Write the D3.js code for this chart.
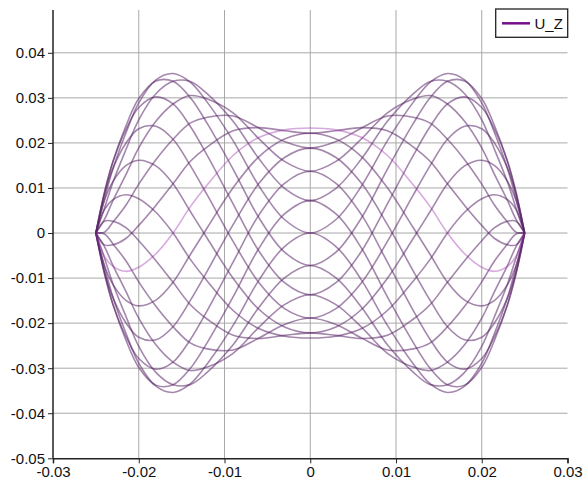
<!DOCTYPE html>
<html><head><meta charset="utf-8">
<script src="https://cdn.jsdelivr.net/npm/d3@7/dist/d3.min.js"></script>
<style>body{margin:0;background:#fff}svg{display:block}</style>
</head><body>
<script>
const xs = [-0.025,-0.024,-0.023,-0.0215,-0.02,-0.018,-0.016,-0.014,-0.012,-0.009,-0.006,-0.003,0,0.003,0.006,0.009,0.012,0.014,0.016,0.018,0.02,0.0215,0.023,0.024,0.025];
const u000 = [0,0.0075,0.0143,0.0222,0.0289,0.034,0.0354,0.0335,0.029,0.0205,0.0105,0.003,0,0.003,0.0105,0.0205,0.029,0.0335,0.0354,0.034,0.0289,0.0222,0.0143,0.0075,0];
const u018 = [0,0.00552,0.01131,0.01848,0.02514,0.03092,0.03367,0.03365,0.03089,0.02481,0.01654,0.00993,0.0072,0.00993,0.01654,0.02481,0.03089,0.03365,0.03367,0.03092,0.02514,0.01848,0.01131,0.00552,0];
const u036 = [0,0.00301,0.00722,0.01296,0.01891,0.02481,0.02864,0.03051,0.02975,0.02669,0.02095,0.01589,0.0137,0.01589,0.02095,0.02669,0.02975,0.03051,0.02864,0.02481,0.01891,0.01296,0.00722,0.00301,0];
const u054 = [0,0.0002,0.00242,0.00617,0.01084,0.01627,0.02081,0.02438,0.02571,0.02596,0.02332,0.02029,0.01885,0.02029,0.02332,0.02596,0.02571,0.02438,0.02081,0.01627,0.01084,0.00617,0.00242,0.0002,0];
const u072 = [0,-0.00263,-0.00262,-0.00122,0.0017,0.00613,0.01094,0.01587,0.01914,0.02269,0.0234,0.02271,0.02216,0.02271,0.0234,0.02269,0.01914,0.01587,0.01094,0.00613,0.0017,-0.00122,-0.00262,-0.00263,0];
const u090 = [0,-0.0052,-0.0074,-0.0085,-0.0076,-0.0046,0,0.0058,0.0107,0.0172,0.0212,0.0229,0.0233,0.0229,0.0212,0.0172,0.0107,0.0058,0,-0.0046,-0.0076,-0.0085,-0.0074,-0.0052,0];
const u108 = [0,-0.00727,-0.01146,-0.01494,-0.01616,-0.01489,-0.01094,-0.00483,0.00122,0.01003,0.01692,0.02085,0.02216,0.02085,0.01692,0.01003,0.00122,-0.00483,-0.01094,-0.01489,-0.01616,-0.01494,-0.01146,-0.00727,0];
const u126 = [0,-0.00862,-0.0144,-0.01993,-0.02314,-0.02371,-0.02081,-0.015,-0.00839,0.00186,0.01098,0.01677,0.01885,0.01677,0.01098,0.00186,-0.00839,-0.015,-0.02081,-0.02371,-0.02314,-0.01993,-0.0144,-0.00862,0];
const u144 = [0,-0.00913,-0.01592,-0.02296,-0.02785,-0.03021,-0.02864,-0.02369,-0.01717,-0.00647,0.00397,0.01103,0.0137,0.01103,0.00397,-0.00647,-0.01717,-0.02369,-0.02864,-0.03021,-0.02785,-0.02296,-0.01592,-0.00913,0];
const u162 = [0,-0.00874,-0.01589,-0.02374,-0.02984,-0.03376,-0.03367,-0.03007,-0.02427,-0.01419,-0.00344,0.00423,0.0072,0.00423,-0.00344,-0.01419,-0.02427,-0.03007,-0.03367,-0.03376,-0.02984,-0.02374,-0.01589,-0.00874,0];
const u180 = [0,-0.0075,-0.0143,-0.0222,-0.0289,-0.034,-0.0354,-0.0335,-0.029,-0.0205,-0.0105,-0.003,0,-0.003,-0.0105,-0.0205,-0.029,-0.0335,-0.0354,-0.034,-0.0289,-0.0222,-0.0143,-0.0075,0];
const u198 = [0,-0.00552,-0.01131,-0.01848,-0.02514,-0.03092,-0.03367,-0.03365,-0.03089,-0.02481,-0.01654,-0.00993,-0.0072,-0.00993,-0.01654,-0.02481,-0.03089,-0.03365,-0.03367,-0.03092,-0.02514,-0.01848,-0.01131,-0.00552,0];
const u216 = [0,-0.00301,-0.00722,-0.01296,-0.01891,-0.02481,-0.02864,-0.03051,-0.02975,-0.02669,-0.02095,-0.01589,-0.0137,-0.01589,-0.02095,-0.02669,-0.02975,-0.03051,-0.02864,-0.02481,-0.01891,-0.01296,-0.00722,-0.00301,0];
const u234 = [0,-0.0002,-0.00242,-0.00617,-0.01084,-0.01627,-0.02081,-0.02438,-0.02571,-0.02596,-0.02332,-0.02029,-0.01885,-0.02029,-0.02332,-0.02596,-0.02571,-0.02438,-0.02081,-0.01627,-0.01084,-0.00617,-0.00242,-0.0002,0];
const u252 = [0,0.00263,0.00262,0.00122,-0.0017,-0.00613,-0.01094,-0.01587,-0.01914,-0.02269,-0.0234,-0.02271,-0.02216,-0.02271,-0.0234,-0.02269,-0.01914,-0.01587,-0.01094,-0.00613,-0.0017,0.00122,0.00262,0.00263,0];
const u270 = [0,0.0052,0.0074,0.0085,0.0076,0.0046,0,-0.0058,-0.0107,-0.0172,-0.0212,-0.0229,-0.0233,-0.0229,-0.0212,-0.0172,-0.0107,-0.0058,0,0.0046,0.0076,0.0085,0.0074,0.0052,0];
const u288 = [0,0.00727,0.01146,0.01494,0.01616,0.01489,0.01094,0.00483,-0.00122,-0.01003,-0.01692,-0.02085,-0.02216,-0.02085,-0.01692,-0.01003,-0.00122,0.00483,0.01094,0.01489,0.01616,0.01494,0.01146,0.00727,0];
const u306 = [0,0.00862,0.0144,0.01993,0.02314,0.02371,0.02081,0.015,0.00839,-0.00186,-0.01098,-0.01677,-0.01885,-0.01677,-0.01098,-0.00186,0.00839,0.015,0.02081,0.02371,0.02314,0.01993,0.0144,0.00862,0];
const u324 = [0,0.00913,0.01592,0.02296,0.02785,0.03021,0.02864,0.02369,0.01717,0.00647,-0.00397,-0.01103,-0.0137,-0.01103,-0.00397,0.00647,0.01717,0.02369,0.02864,0.03021,0.02785,0.02296,0.01592,0.00913,0];
const u342 = [0,0.00874,0.01589,0.02374,0.02984,0.03376,0.03367,0.03007,0.02427,0.01419,0.00344,-0.00423,-0.0072,-0.00423,0.00344,0.01419,0.02427,0.03007,0.03367,0.03376,0.02984,0.02374,0.01589,0.00874,0];

const xTicks = [-0.03,-0.02,-0.01,0,0.01,0.02,0.03];
const xTickLabels = ["-0.03","-0.02","-0.01","0","0.01","0.02","0.03"];
const yTicks = [-0.05,-0.04,-0.03,-0.02,-0.01,0,0.01,0.02,0.03,0.04];
const yTickLabels = ["-0.05","-0.04","-0.03","-0.02","-0.01","0","0.01","0.02","0.03","0.04"];
const seriesName = "U_Z";

const curves = [u000,u018,u036,u054,u072,u108,u126,u144,u162,u180,u198,u216,u234,u252,u270,u288,u306,u324,u342];
const highlight = u090;

const W = 587, H = 487;
const svg = d3.select("body").append("svg").attr("width", W).attr("height", H);
const x = d3.scaleLinear().domain([-0.03, 0.03]).range([53, 567.5]);
const y = d3.scaleLinear().domain([-0.05, 0.0495]).range([458.3, 10]);

// grid
svg.append("g").selectAll("line").data(yTicks.filter(d => d > -0.05)).join("line")
  .attr("x1", x(-0.03)).attr("x2", x(0.03)).attr("y1", d => y(d)).attr("y2", d => y(d))
  .attr("stroke", "#a9a9a9").attr("stroke-width", 1);
svg.append("g").selectAll("line").data(xTicks.filter(d => d > -0.03 && d < 0.03)).join("line")
  .attr("x1", d => x(d)).attr("x2", d => x(d)).attr("y1", y(0.0495)).attr("y2", y(-0.05))
  .attr("stroke", "#a9a9a9").attr("stroke-width", 1);

// curves
const line = d3.line().x((d, i) => x(xs[i])).y(d => y(d)).curve(d3.curveCatmullRom.alpha(0.5));
const cg = svg.append("g").attr("fill", "none");
cg.selectAll("path.c").data(curves).join("path").attr("class", "c")
  .attr("d", line).attr("stroke", "#5a2468").attr("stroke-opacity", 0.55).attr("stroke-width", 1.6);
cg.append("path").datum(highlight).attr("d", line)
  .attr("stroke", "#9a2aaa").attr("stroke-opacity", 0.4).attr("stroke-width", 1.6);

// axes
const fontFam = "'Liberation Sans', Arial, sans-serif";
const xAxis = svg.append("g").attr("transform", `translate(0,${y(-0.05)})`)
  .call(d3.axisBottom(x).tickValues(xTicks).tickFormat((d, i) => xTickLabels[i]).tickSizeOuter(0).tickSize(5).tickPadding(3));
const yAxis = svg.append("g").attr("transform", `translate(${x(-0.03)},0)`)
  .call(d3.axisLeft(y).tickValues(yTicks).tickFormat((d, i) => yTickLabels[i]).tickSizeOuter(0).tickSize(5).tickPadding(3));
[xAxis, yAxis].forEach(g => {
  g.select(".domain").attr("stroke", "#222").attr("stroke-width", 1.5);
  g.selectAll(".tick line").attr("stroke", "#222").attr("stroke-width", 1);
  g.selectAll(".tick text").attr("fill", "#111").style("font-family", fontFam).style("font-size", "15px");
});
yAxis.select(".domain").attr("d", `M0,${y(0.0495)}V${y(-0.05)}`);

// legend
const lg = svg.append("g");
lg.append("rect").attr("x", 495.7).attr("y", 9).attr("width", 72).attr("height", 28.3)
  .attr("fill", "#fff").attr("stroke", "#222").attr("stroke-width", 1.3);
lg.append("line").attr("x1", 502).attr("x2", 530).attr("y1", 23.3).attr("y2", 23.3)
  .attr("stroke", "#74108a").attr("stroke-width", 2.5);
lg.append("text").attr("x", 534.5).attr("y", 28.5).text(seriesName)
  .style("font-family", fontFam).style("font-size", "15px").attr("fill", "#111");
</script>
</body></html>
